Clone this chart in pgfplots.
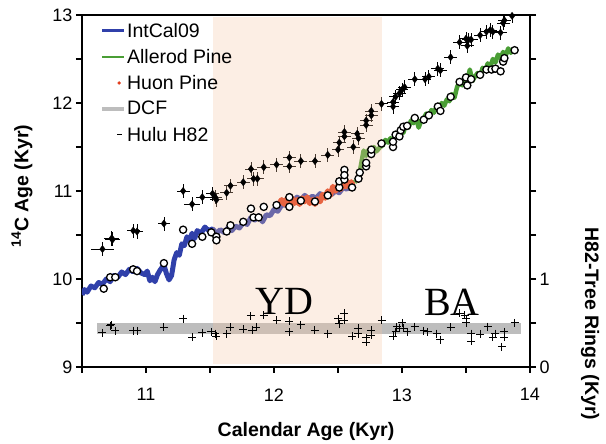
\documentclass[border=0pt]{standalone}
\usepackage{pgfplots}
\pgfplotsset{compat=1.18}
\usepackage{fontspec}
\setmainfont{Liberation Sans}
\newfontfamily\serifyd{Liberation Serif}
\definecolor{intcal}{RGB}{48,64,170}
\definecolor{allerod}{RGB}{74,158,53}
\definecolor{huon}{RGB}{226,58,24}
\definecolor{dcf}{RGB}{189,189,189}
\definecolor{shade}{RGB}{245,198,165}
\begin{document}
\begin{tikzpicture}
\begin{axis}[name=main, scale only axis, width=448pt, height=352pt,
  xmin=10.5, xmax=14, ymin=9, ymax=13,
  axis line style={line width=1.8pt},
  tick pos=left, tick align=outside, major tick length=6pt,
  tick style={line width=1.5pt, black},
  xtick={10.5,11,11.5,12,12.5,13,13.5,14}, xticklabels={,11,,12,,13,,14},
  ytick={9,9.5,10,10.5,11,11.5,12,12.5,13}, yticklabels={9,,10,,11,,12,,13},
  ticklabel style={font=\fontsize{18}{18}\selectfont},
  xticklabel style={yshift=-12pt},
  legend style={draw=none, fill=none, at={(rel axis cs:0.04,0.981)}, anchor=north west,
    font=\fontsize{19.5}{21}\selectfont, row sep=8.5pt, inner sep=0pt, nodes={inner sep=1pt}},
  legend cell align=left,
]
\addlegendimage{legend image code/.code={\draw[intcal, line width=2.5pt] (0pt,0pt) -- (22pt,0pt);}}
\addlegendentry{IntCal09}
\addlegendimage{legend image code/.code={\draw[allerod, line width=2.5pt] (0pt,0pt) -- (22pt,0pt);}}
\addlegendentry{Allerod Pine}
\addlegendimage{legend image code/.code={\fill[huon] (17pt,0pt) circle (1.5pt);}}
\addlegendentry{Huon Pine}
\addlegendimage{legend image code/.code={\draw[dcf, line width=4pt] (0pt,0pt) -- (22pt,0pt);}}
\addlegendentry{DCF}
\addlegendimage{legend image code/.code={\draw[black, line width=1.2pt] (15pt,0pt) -- (20pt,0pt);}}
\addlegendentry{Hulu H82}

% IntCal09
\addplot[intcal, line width=5pt, line join=round, forget plot] coordinates {
(10.50,9.82) (10.52,9.88) (10.54,9.85) (10.57,9.92) (10.60,9.90) (10.63,9.96) (10.66,9.94)
(10.69,10.00) (10.72,9.97) (10.75,10.04) (10.78,10.02) (10.81,10.08) (10.84,10.05) (10.87,10.11)
(10.90,10.08) (10.93,10.12) (10.96,10.07) (10.99,10.05) (11.01,10.09) (11.03,9.98) (11.05,10.02)
(11.07,9.97) (11.09,10.05) (11.11,10.10) (11.14,10.16) (11.16,10.06) (11.18,9.99) (11.20,10.04)
(11.22,10.22) (11.24,10.30) (11.26,10.27) (11.28,10.40) (11.30,10.38) (11.32,10.48) (11.34,10.44)
(11.36,10.52) (11.38,10.46) (11.40,10.55) (11.43,10.52) (11.46,10.59) (11.49,10.55) (11.52,10.57)
(11.55,10.52) (11.58,10.56) (11.61,10.53) (11.64,10.58) (11.67,10.55) (11.70,10.60) (11.73,10.58)
(11.76,10.64) (11.79,10.62) (11.82,10.70) (11.85,10.67) (11.88,10.72) (11.91,10.65) (11.94,10.73)
(11.97,10.72) (12.00,10.79) (12.03,10.77) (12.06,10.84) (12.09,10.84) (12.12,10.90) (12.15,10.88)
(12.18,10.93) (12.21,10.90) (12.24,10.95) (12.27,10.91) (12.30,10.94) (12.33,10.92) (12.36,10.97)
(12.39,10.94) (12.42,10.98) (12.45,10.96) (12.48,11.00) (12.51,10.98) (12.54,11.04) (12.57,11.02)
(12.60,11.07) (12.63,11.08)};
% Huon Pine
\addplot[huon, line width=5.5pt, line join=round, forget plot] coordinates {
(12.04,10.86) (12.06,10.90) (12.08,10.85) (12.10,10.91) (12.12,10.87) (12.14,10.92) (12.16,10.86)
(12.18,10.90) (12.20,10.85) (12.22,10.92) (12.24,10.88) (12.26,10.93) (12.28,10.86) (12.30,10.90)
(12.32,10.85) (12.34,10.91) (12.36,10.88) (12.38,10.96) (12.40,10.92) (12.42,11.00) (12.44,10.95)
(12.46,11.05) (12.48,11.00) (12.50,11.06) (12.52,11.02) (12.54,11.08) (12.56,11.05) (12.58,11.10)
(12.60,11.07) (12.62,11.12)};
% Allerod Pine
\addplot[allerod, line width=4.5pt, line join=round, forget plot] coordinates {
(12.63,11.10) (12.66,11.14) (12.68,11.30) (12.70,11.46) (12.72,11.40) (12.74,11.47) (12.76,11.44)
(12.78,11.50) (12.80,11.45) (12.83,11.50) (12.85,11.52) (12.87,11.58) (12.89,11.55) (12.91,11.60)
(12.93,11.57) (12.95,11.66) (12.97,11.62) (12.99,11.70) (13.01,11.66) (13.03,11.75) (13.05,11.72)
(13.07,11.80) (13.09,11.77) (13.11,11.84) (13.13,11.72) (13.15,11.80) (13.17,11.83) (13.19,11.88)
(13.21,11.84) (13.23,11.92) (13.25,11.89) (13.27,11.96) (13.29,11.93) (13.31,12.00) (13.33,11.97)
(13.35,12.04) (13.37,12.02) (13.39,12.10) (13.41,12.06) (13.43,12.18) (13.45,12.24) (13.47,12.20)
(13.49,12.30) (13.51,12.26) (13.53,12.38) (13.55,12.25) (13.57,12.30) (13.59,12.34) (13.61,12.30)
(13.63,12.40) (13.65,12.37) (13.67,12.45) (13.69,12.41) (13.71,12.50) (13.73,12.46) (13.75,12.55)
(13.77,12.51) (13.79,12.58) (13.81,12.54) (13.83,12.62) (13.85,12.57) (13.87,12.62)};
% DCF band
\addplot[dcf, line width=11pt, forget plot] coordinates {(10.62,9.4375) (13.93,9.4375)};
% H82 - tree rings
\addplot[only marks, mark=+, mark size=4pt, black, mark options={line width=1pt}, forget plot] coordinates {
(10.66,9.39) (10.72,9.47) (10.73,9.48) (10.76,9.41) (10.90,9.41) (10.93,9.41) (11.14,9.45) (11.29,9.55)
(11.36,9.34) (11.44,9.39) (11.51,9.40) (11.54,9.38) (11.55,9.35) (11.63,9.38) (11.66,9.45) (11.76,9.43)
(11.82,9.58) (11.83,9.42) (11.86,9.45) (11.92,9.59) (12.02,9.53) (12.12,9.52) (12.12,9.40) (12.21,9.48)
(12.32,9.42) (12.42,9.38) (12.50,9.55) (12.51,9.49) (12.55,9.61) (12.55,9.53) (12.61,9.35) (12.66,9.44)
(12.66,9.38) (12.72,9.33) (12.72,9.28) (12.76,9.42) (12.76,9.36) (12.84,9.53) (12.93,9.35) (12.95,9.40)
(12.96,9.46) (12.98,9.44) (13.00,9.50) (13.01,9.44) (13.04,9.40) (13.10,9.46) (13.17,9.41) (13.20,9.40)
(13.27,9.38) (13.30,9.31) (13.38,9.45) (13.45,9.61) (13.49,9.59) (13.50,9.55) (13.50,9.50) (13.54,9.38)
(13.54,9.29) (13.61,9.37) (13.67,9.46) (13.71,9.34) (13.73,9.38) (13.78,9.23) (13.80,9.40) (13.80,9.34)
(13.88,9.50)};
% Hulu H82
\addplot[only marks, mark=diamond*, mark size=3.6pt, black, forget plot,
  error bars/.cd, x dir=both, x explicit, y dir=both, y fixed=0.08,
  error bar style={line width=0.8pt}, error mark=none]
  table[x=x, y=y, x error=ex] {
x y ex
10.66 10.34 0.09
10.73 10.46 0.06
10.74 10.45 0.06
10.90 10.55 0.05
10.93 10.54 0.05
11.14 10.63 0.05
11.29 11.00 0.05
11.36 10.85 0.06
11.44 10.93 0.05
11.52 10.97 0.05
11.54 10.93 0.05
11.55 10.90 0.05
11.63 10.98 0.05
11.66 11.06 0.05
11.76 11.10 0.05
11.82 11.25 0.05
11.84 11.14 0.05
11.87 11.14 0.05
11.92 11.27 0.05
12.02 11.30 0.05
12.12 11.38 0.05
12.12 11.28 0.05
12.21 11.34 0.05
12.32 11.34 0.05
12.42 11.41 0.05
12.50 11.47 0.05
12.51 11.55 0.05
12.55 11.62 0.05
12.55 11.67 0.05
12.62 11.50 0.05
12.65 11.65 0.05
12.66 11.60 0.05
12.72 11.75 0.05
12.72 11.80 0.05
12.76 11.86 0.05
12.76 11.91 0.05
12.84 11.99 0.05
12.93 12.01 0.05
12.93 11.96 0.05
12.95 12.07 0.05
12.98 12.11 0.05
13.00 12.15 0.05
13.02 12.18 0.05
13.10 12.27 0.05
13.18 12.27 0.05
13.21 12.30 0.05
13.28 12.39 0.05
13.30 12.37 0.05
13.38 12.52 0.05
13.45 12.69 0.05
13.50 12.73 0.05
13.52 12.72 0.05
13.51 12.65 0.05
13.54 12.72 0.05
13.61 12.77 0.05
13.66 12.81 0.05
13.69 12.83 0.05
13.71 12.81 0.05
13.77 12.80 0.05
13.79 12.91 0.05
13.80 12.94 0.05
13.86 12.99 0.05
};
% corrected H82 (open circles)
\addplot[only marks, mark=*, mark size=3.6pt, mark options={fill=white, draw=black, line width=1.3pt}, forget plot] coordinates {
(10.67,9.89) (10.72,10.02) (10.76,10.02) (10.90,10.11) (10.93,10.09) (11.14,10.18) (11.29,10.56)
(11.36,10.40) (11.44,10.48) (11.51,10.53) (11.55,10.48) (11.55,10.44) (11.63,10.54) (11.66,10.61)
(11.76,10.65) (11.82,10.80) (11.84,10.70) (11.88,10.70) (11.92,10.82) (12.02,10.84) (12.12,10.93)
(12.12,10.82) (12.21,10.89) (12.32,10.88) (12.42,10.95) (12.51,11.04) (12.51,11.11) (12.55,11.13)
(12.55,11.24) (12.55,11.18) (12.61,11.04) (12.66,11.14) (12.67,11.21) (12.72,11.28) (12.72,11.32)
(12.76,11.42) (12.76,11.47) (12.84,11.54) (12.93,11.50) (12.93,11.56) (12.95,11.64) (12.98,11.62)
(12.99,11.69) (13.01,11.73) (13.04,11.74) (13.10,11.83) (13.17,11.81) (13.21,11.86) (13.28,11.96)
(13.30,11.91) (13.38,12.07) (13.45,12.24) (13.50,12.29) (13.51,12.20) (13.54,12.27) (13.61,12.32)
(13.66,12.38) (13.70,12.38) (13.73,12.39) (13.77,12.36) (13.79,12.47) (13.80,12.51) (13.88,12.60)};
% YD shading
\addplot[draw=none, fill=shade, fill opacity=0.3, forget plot] coordinates {
(11.52,9.03) (12.84,9.03) (12.84,12.98) (11.52,12.98)} -- cycle;
\node[font=\serifyd\fontsize{40}{40}\selectfont] at (axis cs:12.08,9.74) {YD};
\node[font=\serifyd\fontsize{40}{40}\selectfont] at (axis cs:13.39,9.74) {BA};
\end{axis}
\begin{axis}[scale only axis, width=448pt, height=352pt, at={(main.south west)}, anchor=south west,
  xmin=10.5, xmax=14, ymin=0, ymax=4,
  axis x line=none, axis y line*=right,
  axis line style={-, line width=2.5pt},
  ytick={0,0.5,1,1.5,2,2.5,3,3.5,4}, yticklabels={0,,1,,,,,,},
  tick align=outside, major tick length=6pt, tick style={line width=1.5pt, black},
  ticklabel style={font=\fontsize{18}{18}\selectfont},
]
\end{axis}
\node[rotate=90, font=\bfseries\fontsize{19.5}{20}\selectfont] at ([shift={(-60pt,181pt)}]main.south west) {\textsuperscript{14}C Age (Kyr)};
\node[rotate=-90, font=\bfseries\fontsize{19.5}{20}\selectfont] at ([shift={(508pt,43pt)}]main.south west) {H82-Tree Rings (Kyr)};
\node[font=\bfseries\fontsize{19.5}{20}\selectfont] at ([shift={(224pt,-65pt)}]main.south west) {Calendar Age (Kyr)};
\pgfresetboundingbox
\path[use as bounding box] (main.south west) ++(-82pt,-77pt) rectangle ++(606pt,444pt);
\end{tikzpicture}
\end{document}
